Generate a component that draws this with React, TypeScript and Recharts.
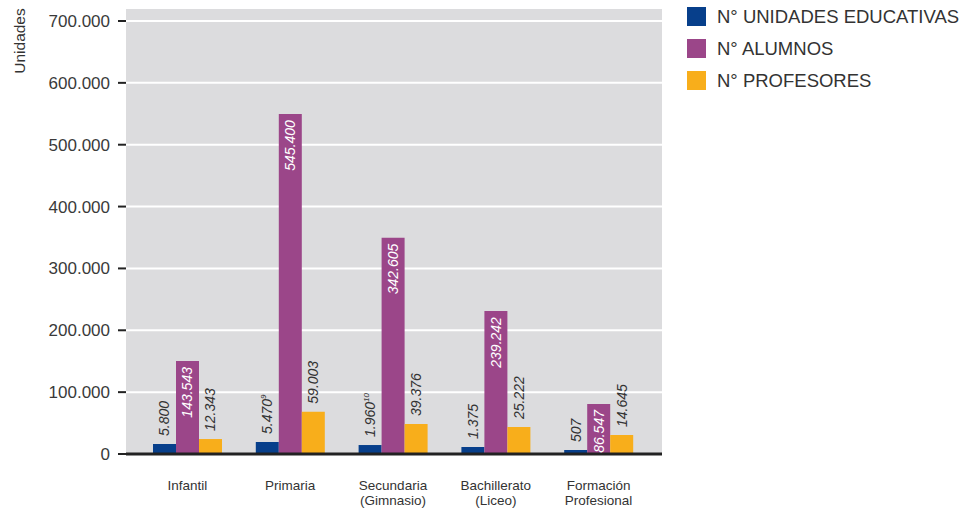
import React from 'react';
import { BarChart, Bar, XAxis, YAxis, CartesianGrid, LabelList, ReferenceLine } from 'recharts';

const categories = ['Infantil', 'Primaria', 'Secundaria\n(Gimnasio)', 'Bachillerato\n(Liceo)', 'Formación\nProfesional'];
const unidadesBar = [16200, 19400, 14500, 11300, 6500];
const alumnosBar = [150300, 549500, 349600, 231000, 80800];
const profesoresBar = [24200, 68400, 48500, 43600, 30700];
const unidadesLabels = ['5.800', '5.470', '1.960', '1.375', '507'];
const unidadesNotes = ['', '9', '10', '', ''];
const alumnosLabels = ['143.543', '545.400', '342.605', '239.242', '86.547'];
const alumnosNotes = ['', '', '', '', ''];
const profesoresLabels = ['12.343', '59.003', '39.376', '25.222', '14.645'];
const profesoresNotes = ['', '', '', '', ''];
const yTicks = [0, 100000, 200000, 300000, 400000, 500000, 600000, 700000];
const seriesNames = ['N° UNIDADES EDUCATIVAS', 'N° ALUMNOS', 'N° PROFESORES'];
const seriesColors = ['#073f8b', '#9b4689', '#f8ae1b'];
const yAxisTitle = 'Unidades';

const data = categories.map((c, i) => ({
  cat: c,
  u: unidadesBar[i],
  a: alumnosBar[i],
  p: profesoresBar[i],
}));

const FONT = '"Liberation Sans", Arial, sans-serif';
const fmt = (v: number) => String(v).replace(/\B(?=(\d{3})+(?!\d))/g, '.');

const makeLabel = (labels: string[], notes: string[], inside: boolean) => (props: any) => {
  const vb = props.viewBox || {};
  const x = Number(props.x ?? vb.x);
  const y = Number(props.y ?? vb.y);
  const w = Number(props.width ?? vb.width);
  const i = props.index;
  const cx = x + w / 2 + 5;
  const ty = inside ? y + 6 : y - 8;
  const note = notes[i];
  return (
    <text
      x={cx}
      y={ty}
      transform={`rotate(-90 ${cx} ${ty})`}
      textAnchor={inside ? 'end' : 'start'}
      fontStyle="italic"
      fontSize={14}
      fontFamily={FONT}
      fill={inside ? '#ffffff' : '#333333'}
    >
      {labels[i]}
      {note ? (
        <tspan dy={-6} fontSize={8}>
          {note}
        </tspan>
      ) : null}
    </text>
  );
};

const CatTick = (props: any) => {
  const { x, y, payload } = props;
  const lines = String(payload.value).split('\n');
  return (
    <g>
      {lines.map((l, k) => (
        <text
          key={k}
          x={x}
          y={y + 36 + k * 15}
          textAnchor="middle"
          fontSize={13.5}
          fontFamily={FONT}
          fill="#333333"
        >
          {l}
        </text>
      ))}
    </g>
  );
};

const YTitle = () => (
  <text
    x={25}
    y={41}
    transform="rotate(-90 25 41)"
    textAnchor="middle"
    fontSize={15.5}
    fontFamily={FONT}
    fill="#333333"
  >
    {yAxisTitle}
  </text>
);

export default function App() {
  return (
    <div style={{ position: 'absolute', left: 0, top: 0, width: 962, height: 511, background: '#ffffff' }}>
      <BarChart
        width={962}
        height={511}
        data={data}
        margin={{ top: 8, right: 300, bottom: 0, left: 0 }}
        barGap={0}
        barSize={23}
      >
        <CartesianGrid
          vertical={false}
          stroke="#ffffff"
          strokeWidth={2}
          fill="#dcdcde"
          fillOpacity={1}
        />
        <XAxis
          dataKey="cat"
          tick={<CatTick />}
          tickLine={false}
          axisLine={false}
          height={57}
          tickSize={0}
          tickMargin={0}
          interval={0}
          padding={{ left: 10, right: 12 }}
        />
        <YAxis
          width={126}
          domain={[0, 721000]}
          ticks={yTicks}
          allowDataOverflow
          axisLine={false}
          tickLine={{ stroke: '#222222', strokeWidth: 2 }}
          tickSize={8}
          tickMargin={8}
          tickFormatter={fmt}
          tick={{ fontSize: 17, fill: '#3a3a3a', fontFamily: FONT }}
          label={<YTitle />}
        />
        <Bar dataKey="u" fill={seriesColors[0]} isAnimationActive={false}>
          <LabelList dataKey="u" content={makeLabel(unidadesLabels, unidadesNotes, false)} />
        </Bar>
        <Bar dataKey="a" fill={seriesColors[1]} isAnimationActive={false}>
          <LabelList dataKey="a" content={makeLabel(alumnosLabels, alumnosNotes, true)} />
        </Bar>
        <Bar dataKey="p" fill={seriesColors[2]} isAnimationActive={false}>
          <LabelList dataKey="p" content={makeLabel(profesoresLabels, profesoresNotes, false)} />
        </Bar>
        <ReferenceLine y={0} stroke="#222222" strokeWidth={3} />
      </BarChart>
      <div style={{ position: 'absolute', left: 687, top: 7, fontFamily: FONT }}>
        {seriesNames.map((n, i) => (
          <div key={n} style={{ display: 'flex', alignItems: 'center', height: 19, marginBottom: 13 }}>
            <div style={{ width: 19, height: 19, background: seriesColors[i], marginRight: 11 }} />
            <span style={{ fontSize: 18.5, color: '#333333', whiteSpace: 'nowrap' }}>{n}</span>
          </div>
        ))}
      </div>
    </div>
  );
}
